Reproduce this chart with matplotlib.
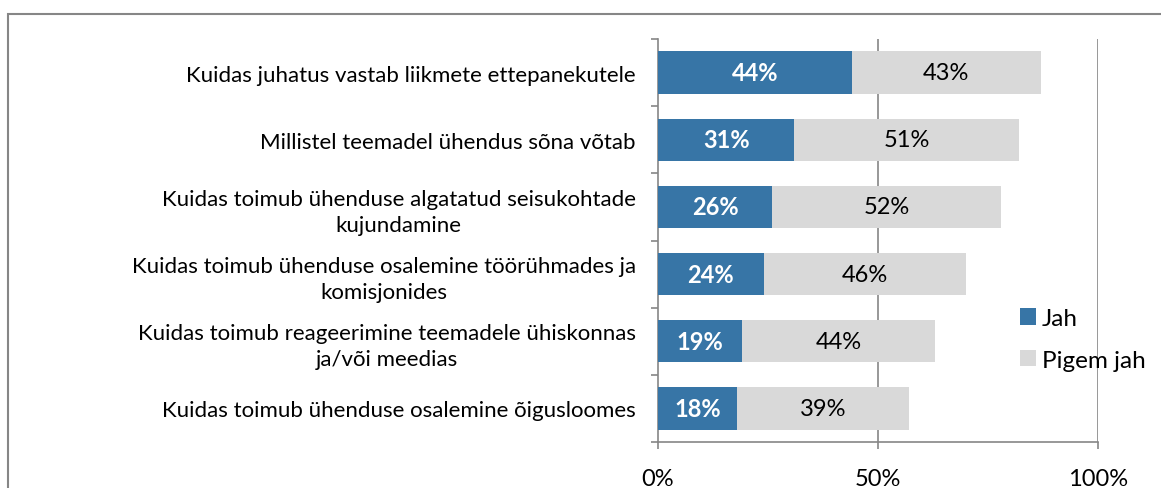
import matplotlib
matplotlib.use("Agg")
import matplotlib.pyplot as plt
from matplotlib.patches import Rectangle

categories = [
    "Kuidas juhatus vastab liikmete ettepanekutele",
    "Millistel teemadel ühendus sõna võtab",
    "Kuidas toimub ühenduse algatatud seisukohtade\nkujundamine",
    "Kuidas toimub ühenduse osalemine töörühmades ja\nkomisjonides",
    "Kuidas toimub reageerimine teemadele ühiskonnas\nja/või meedias",
    "Kuidas toimub ühenduse osalemine õigusloomes",
]
jah = [44, 31, 26, 24, 19, 18]
pigem_jah = [43, 51, 52, 46, 44, 39]
series_names = ["Jah", "Pigem jah"]
xticks = [0, 50, 100]
xtick_labels = ["0%", "50%", "100%"]

plt.rcParams['font.family'] = ['Lato', 'DejaVu Sans']

W, H = 1161, 489
fig = plt.figure(figsize=(W / 100, H / 100), dpi=100)

# outer border
fig.patches.append(Rectangle((8 / W, -0.1), 1.2, 1 - 15 / H + 0.1, transform=fig.transFigure,
                             fill=False, edgecolor='#868686', linewidth=1.5, zorder=0))

ax = fig.add_axes([658 / W, 1 - 443 / H, (1098 - 658) / W, (443 - 40) / H])
blue = '#3775A6'
grey = '#D9D9D9'
y = list(range(len(categories)))
h = 0.63
b1 = ax.barh(y, jah, height=h, color=blue, label=series_names[0], zorder=3)
b2 = ax.barh(y, pigem_jah, left=jah, height=h, color=grey, label=series_names[1], zorder=3)

for i in y:
    ax.text(jah[i] / 2, i, f"{jah[i]}%", ha='center', va='center', color='white',
            fontsize=17, fontweight='bold', zorder=4)
    ax.text(jah[i] + pigem_jah[i] / 2, i, f"{pigem_jah[i]}%", ha='center', va='center',
            color='black', fontsize=17, zorder=4)

ax.set_xlim(0, 100)
ax.set_ylim(len(categories) - 0.5, -0.5)
ax.set_xticks(xticks)
ax.set_xticklabels(xtick_labels, fontsize=17)
ax.set_yticks(y)
ax.set_yticklabels(categories, fontsize=16)
for t in ax.get_yticklabels():
    t.set_multialignment('center')
    t.set_linespacing(1.35)
ax.set_yticks([i - 0.5 for i in range(len(categories) + 1)], minor=True)
ax.tick_params(axis='y', which='major', length=0, pad=16)
ax.tick_params(axis='y', which='minor', length=5, color='#868686', width=1.2)
ax.tick_params(axis='x', length=5, color='#868686', width=1.2, pad=14)

for s in ['top', 'right']:
    ax.spines[s].set_visible(False)
for s in ['left', 'bottom']:
    ax.spines[s].set_color('#868686')
    ax.spines[s].set_linewidth(1.2)
for xv in xticks[1:]:
    ax.axvline(xv, color='#868686', linewidth=1.2, zorder=1)

leg = fig.legend(handles=[b1, b2], labels=series_names, loc='upper left',
                 bbox_to_anchor=(1003 / W, 1 - 292 / H), frameon=False, fontsize=17.5,
                 handlelength=0.65, handleheight=0.65, handletextpad=0.25, labelspacing=0.85,
                 borderpad=0.2)

fig.savefig("out.png", dpi=100)
